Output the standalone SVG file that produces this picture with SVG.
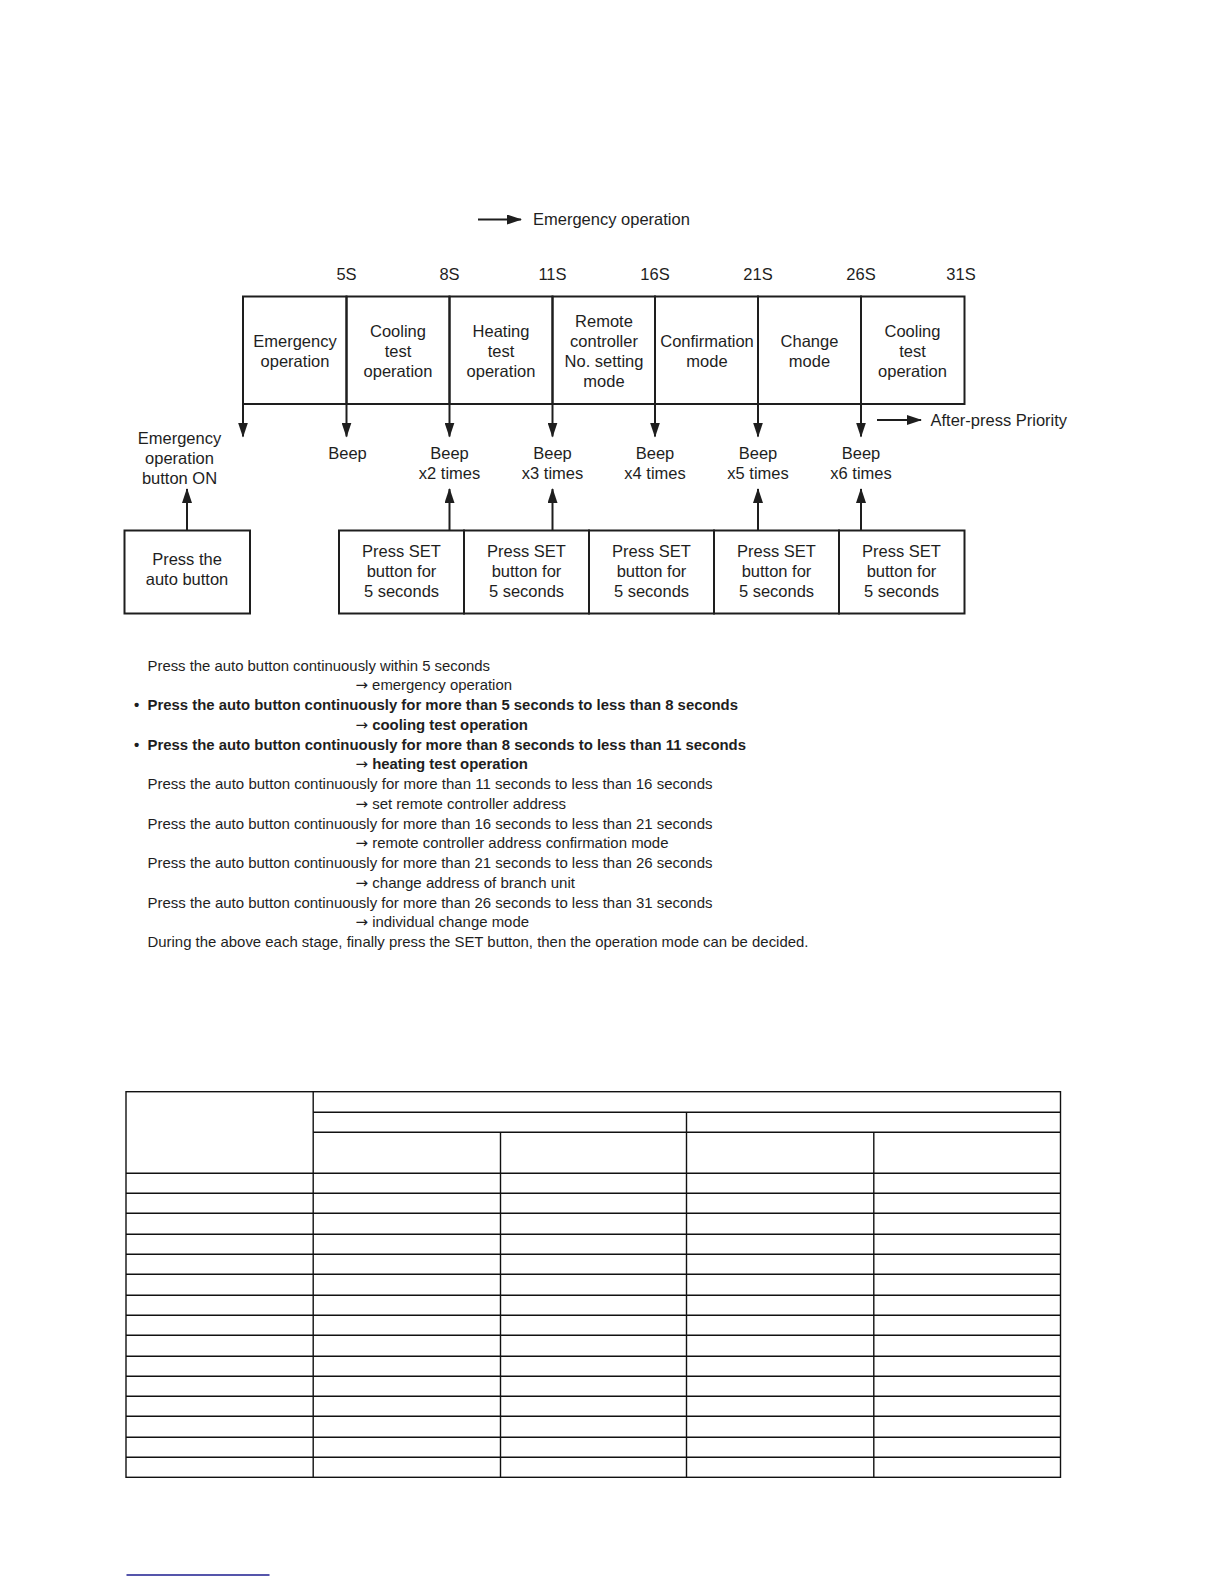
<svg xmlns="http://www.w3.org/2000/svg" width="1224" height="1584" viewBox="0 0 1224 1584">
<style>
  .t{font-family:"Liberation Sans",Arial,sans-serif;font-size:16.5px;fill:#1e1e1e;text-anchor:middle}
  .p{font-family:"Liberation Sans",Arial,sans-serif;font-size:15px;fill:#1e1e1e}
  .b{font-weight:bold}
  .ar{font-family:"DejaVu Sans",sans-serif;font-weight:normal}
  .box{fill:none;stroke:#1e1e1e;stroke-width:2}
  .ln{stroke:#1e1e1e;stroke-width:2;fill:none}
  .tl{stroke:#111;stroke-width:1.4;fill:none}
</style>
<defs>
  <marker id="ah" viewBox="0 0 15 10" refX="14" refY="5" markerWidth="15" markerHeight="10" markerUnits="userSpaceOnUse" orient="auto">
    <path d="M0,0 L15,5 L0,10 z" fill="#1e1e1e"/>
  </marker>
</defs>
<rect width="1224" height="1584" fill="#fff"/>

<!-- legend -->
<g id="legend-emergency">
  <line class="ln" x1="478" y1="219.5" x2="521" y2="219.5" marker-end="url(#ah)"/>
  <text class="t" x="533" y="225" style="text-anchor:start">Emergency operation</text>
</g>
<g id="legend-afterpress">
  <line class="ln" x1="877" y1="420" x2="921" y2="420" marker-end="url(#ah)"/>
  <text class="t" x="930.5" y="425.5" style="text-anchor:start">After-press Priority</text>
</g>

<!-- time labels -->
<g id="time-labels">
  <text class="t" x="346.5" y="280">5S</text>
  <text class="t" x="449.5" y="280">8S</text>
  <text class="t" x="552.5" y="280">11S</text>
  <text class="t" x="655" y="280">16S</text>
  <text class="t" x="758" y="280">21S</text>
  <text class="t" x="861" y="280">26S</text>
  <text class="t" x="961" y="280">31S</text>
</g>

<!-- stage boxes -->
<g id="stage-emergency">
  <rect class="box" x="243" y="296.5" width="103.5" height="107.5"/>
  <text class="t" x="295" y="347">Emergency</text>
  <text class="t" x="295" y="367">operation</text>
</g>
<g id="stage-cooling">
  <rect class="box" x="346.5" y="296.5" width="103" height="107.5"/>
  <text class="t" x="398" y="337">Cooling</text>
  <text class="t" x="398" y="357">test</text>
  <text class="t" x="398" y="377">operation</text>
</g>
<g id="stage-heating">
  <rect class="box" x="449.5" y="296.5" width="103" height="107.5"/>
  <text class="t" x="501" y="337">Heating</text>
  <text class="t" x="501" y="357">test</text>
  <text class="t" x="501" y="377">operation</text>
</g>
<g id="stage-remote">
  <rect class="box" x="552.5" y="296.5" width="102.5" height="107.5"/>
  <text class="t" x="604" y="327">Remote</text>
  <text class="t" x="604" y="347">controller</text>
  <text class="t" x="604" y="367">No. setting</text>
  <text class="t" x="604" y="387">mode</text>
</g>
<g id="stage-confirmation">
  <rect class="box" x="655" y="296.5" width="103" height="107.5"/>
  <text class="t" x="707" y="347">Confirmation</text>
  <text class="t" x="707" y="367">mode</text>
</g>
<g id="stage-change">
  <rect class="box" x="758" y="296.5" width="103" height="107.5"/>
  <text class="t" x="809.5" y="347">Change</text>
  <text class="t" x="809.5" y="367">mode</text>
</g>
<g id="stage-cooling2">
  <rect class="box" x="861" y="296.5" width="103.5" height="107.5"/>
  <text class="t" x="912.5" y="337">Cooling</text>
  <text class="t" x="912.5" y="357">test</text>
  <text class="t" x="912.5" y="377">operation</text>
</g>

<!-- beep labels -->
<g id="label-emergency-on">
  <text class="t" x="179.5" y="443.5">Emergency</text>
  <text class="t" x="179.5" y="463.5">operation</text>
  <text class="t" x="179.5" y="483.5">button ON</text>
</g>
<g id="beep-1"><text class="t" x="347.5" y="458.5">Beep</text></g>
<g id="beep-2"><text class="t" x="449.5" y="458.5">Beep</text><text class="t" x="449.5" y="478.5">x2 times</text></g>
<g id="beep-3"><text class="t" x="552.5" y="458.5">Beep</text><text class="t" x="552.5" y="478.5">x3 times</text></g>
<g id="beep-4"><text class="t" x="655" y="458.5">Beep</text><text class="t" x="655" y="478.5">x4 times</text></g>
<g id="beep-5"><text class="t" x="758" y="458.5">Beep</text><text class="t" x="758" y="478.5">x5 times</text></g>
<g id="beep-6"><text class="t" x="861" y="458.5">Beep</text><text class="t" x="861" y="478.5">x6 times</text></g>

<!-- bottom boxes -->
<g id="press-auto">
  <rect class="box" x="124.5" y="530.5" width="125.5" height="83"/>
  <text class="t" x="187" y="565">Press the</text>
  <text class="t" x="187" y="585">auto button</text>
</g>
<g id="press-set-1">
  <rect class="box" x="339" y="530.5" width="125" height="83"/>
  <text class="t" x="401.5" y="557">Press SET</text><text class="t" x="401.5" y="577">button for</text><text class="t" x="401.5" y="597">5 seconds</text>
</g>
<g id="press-set-2">
  <rect class="box" x="464" y="530.5" width="125" height="83"/>
  <text class="t" x="526.5" y="557">Press SET</text><text class="t" x="526.5" y="577">button for</text><text class="t" x="526.5" y="597">5 seconds</text>
</g>
<g id="press-set-3">
  <rect class="box" x="589" y="530.5" width="125" height="83"/>
  <text class="t" x="651.5" y="557">Press SET</text><text class="t" x="651.5" y="577">button for</text><text class="t" x="651.5" y="597">5 seconds</text>
</g>
<g id="press-set-4">
  <rect class="box" x="714" y="530.5" width="125" height="83"/>
  <text class="t" x="776.5" y="557">Press SET</text><text class="t" x="776.5" y="577">button for</text><text class="t" x="776.5" y="597">5 seconds</text>
</g>
<g id="press-set-5">
  <rect class="box" x="839" y="530.5" width="125.5" height="83"/>
  <text class="t" x="901.5" y="557">Press SET</text><text class="t" x="901.5" y="577">button for</text><text class="t" x="901.5" y="597">5 seconds</text>
</g>

<!-- connectors -->
<g id="connectors">
  <line class="ln" x1="243" y1="404" x2="243" y2="436.5" marker-end="url(#ah)"/>
  <line class="ln" x1="346.5" y1="404" x2="346.5" y2="436.5" marker-end="url(#ah)"/>
  <line class="ln" x1="449.5" y1="404" x2="449.5" y2="436.5" marker-end="url(#ah)"/>
  <line class="ln" x1="552.5" y1="404" x2="552.5" y2="436.5" marker-end="url(#ah)"/>
  <line class="ln" x1="655" y1="404" x2="655" y2="436.5" marker-end="url(#ah)"/>
  <line class="ln" x1="758" y1="404" x2="758" y2="436.5" marker-end="url(#ah)"/>
  <line class="ln" x1="861" y1="404" x2="861" y2="436.5" marker-end="url(#ah)"/>

  <line class="ln" x1="187" y1="530.5" x2="187" y2="489" marker-end="url(#ah)"/>
  <line class="ln" x1="449.5" y1="530.5" x2="449.5" y2="489" marker-end="url(#ah)"/>
  <line class="ln" x1="552.5" y1="530.5" x2="552.5" y2="489" marker-end="url(#ah)"/>
  <line class="ln" x1="758" y1="530.5" x2="758" y2="489" marker-end="url(#ah)"/>
  <line class="ln" x1="861" y1="530.5" x2="861" y2="489" marker-end="url(#ah)"/>
</g>

<!-- explanation text -->
<g id="notes">
  <text class="p" x="147.5" y="670.7" textLength="342.5" lengthAdjust="spacingAndGlyphs">Press the auto button continuously within 5 seconds</text>
  <text class="p" x="355.5" y="690.4" textLength="156.5" lengthAdjust="spacingAndGlyphs"><tspan class="ar">→</tspan> emergency operation</text>
  <text class="p b" x="134" y="710.2">•</text>
  <text class="p b" x="147.5" y="710.2" textLength="590.5" lengthAdjust="spacingAndGlyphs">Press the auto button continuously for more than 5 seconds to less than 8 seconds</text>
  <text class="p b" x="355.5" y="729.9" textLength="172.5" lengthAdjust="spacingAndGlyphs"><tspan class="ar">→</tspan> cooling test operation</text>
  <text class="p b" x="134" y="749.7">•</text>
  <text class="p b" x="147.5" y="749.7" textLength="598.5" lengthAdjust="spacingAndGlyphs">Press the auto button continuously for more than 8 seconds to less than 11 seconds</text>
  <text class="p b" x="355.5" y="769.4" textLength="172.5" lengthAdjust="spacingAndGlyphs"><tspan class="ar">→</tspan> heating test operation</text>
  <text class="p" x="147.5" y="789.2" textLength="565" lengthAdjust="spacingAndGlyphs">Press the auto button continuously for more than 11 seconds to less than 16 seconds</text>
  <text class="p" x="355.5" y="808.9" textLength="210.5" lengthAdjust="spacingAndGlyphs"><tspan class="ar">→</tspan> set remote controller address</text>
  <text class="p" x="147.5" y="828.7" textLength="565" lengthAdjust="spacingAndGlyphs">Press the auto button continuously for more than 16 seconds to less than 21 seconds</text>
  <text class="p" x="355.5" y="848.4" textLength="313" lengthAdjust="spacingAndGlyphs"><tspan class="ar">→</tspan> remote controller address confirmation mode</text>
  <text class="p" x="147.5" y="868.2" textLength="565" lengthAdjust="spacingAndGlyphs">Press the auto button continuously for more than 21 seconds to less than 26 seconds</text>
  <text class="p" x="355.5" y="887.9" textLength="219.5" lengthAdjust="spacingAndGlyphs"><tspan class="ar">→</tspan> change address of branch unit</text>
  <text class="p" x="147.5" y="907.7" textLength="565" lengthAdjust="spacingAndGlyphs">Press the auto button continuously for more than 26 seconds to less than 31 seconds</text>
  <text class="p" x="355.5" y="927.4" textLength="173.5" lengthAdjust="spacingAndGlyphs"><tspan class="ar">→</tspan> individual change mode</text>
  <text class="p" x="147.5" y="947.2" textLength="661" lengthAdjust="spacingAndGlyphs">During the above each stage, finally press the SET button, then the operation mode can be decided.</text>
</g>

<!-- empty table -->
<g id="table">
  <rect class="tl" x="126" y="1091.7" width="934.5" height="385.6"/>
  <line class="tl" x1="313.2" y1="1091.7" x2="313.2" y2="1477.3"/>
  <line class="tl" x1="313.2" y1="1112.3" x2="1060.5" y2="1112.3"/>
  <line class="tl" x1="313.2" y1="1132.3" x2="1060.5" y2="1132.3"/>
  <line class="tl" x1="686.5" y1="1112.3" x2="686.5" y2="1477.3"/>
  <line class="tl" x1="500.5" y1="1132.3" x2="500.5" y2="1477.3"/>
  <line class="tl" x1="873.8" y1="1132.3" x2="873.8" y2="1477.3"/>
  <line class="tl" x1="126" y1="1173.3" x2="1060.5" y2="1173.3"/>
  <line class="tl" x1="126" y1="1193.3" x2="1060.5" y2="1193.3"/>
  <line class="tl" x1="126" y1="1213.3" x2="1060.5" y2="1213.3"/>
  <line class="tl" x1="126" y1="1234.3" x2="1060.5" y2="1234.3"/>
  <line class="tl" x1="126" y1="1254.3" x2="1060.5" y2="1254.3"/>
  <line class="tl" x1="126" y1="1274.3" x2="1060.5" y2="1274.3"/>
  <line class="tl" x1="126" y1="1295.3" x2="1060.5" y2="1295.3"/>
  <line class="tl" x1="126" y1="1315.3" x2="1060.5" y2="1315.3"/>
  <line class="tl" x1="126" y1="1335.3" x2="1060.5" y2="1335.3"/>
  <line class="tl" x1="126" y1="1356.3" x2="1060.5" y2="1356.3"/>
  <line class="tl" x1="126" y1="1376.3" x2="1060.5" y2="1376.3"/>
  <line class="tl" x1="126" y1="1396.3" x2="1060.5" y2="1396.3"/>
  <line class="tl" x1="126" y1="1416.3" x2="1060.5" y2="1416.3"/>
  <line class="tl" x1="126" y1="1437.3" x2="1060.5" y2="1437.3"/>
  <line class="tl" x1="126" y1="1457.3" x2="1060.5" y2="1457.3"/>
</g>

<line x1="126.5" y1="1575" x2="269.5" y2="1575" stroke="#1c1c8f" stroke-width="1.4"/>
</svg>
